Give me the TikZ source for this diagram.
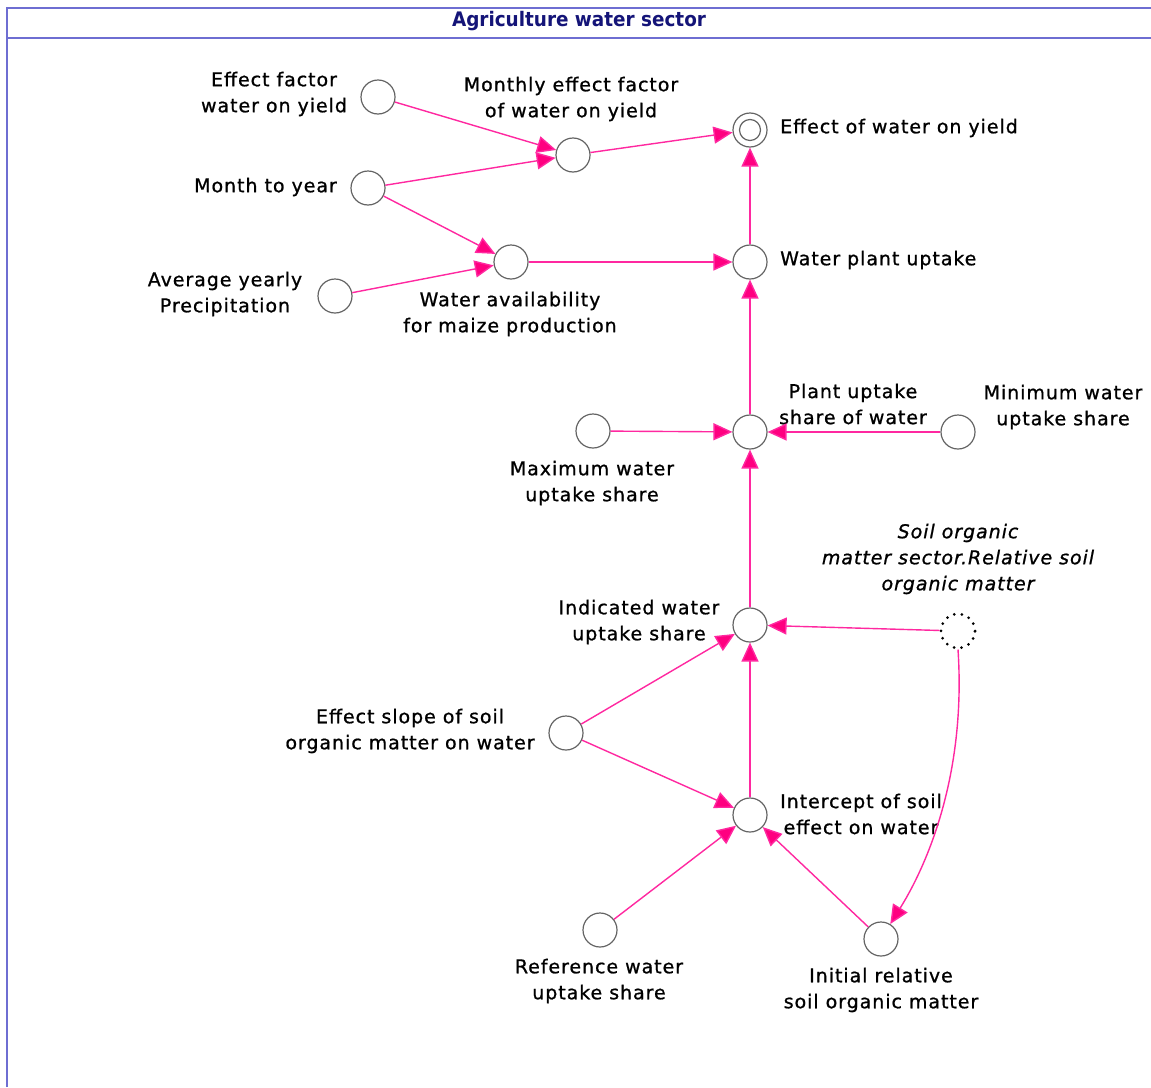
\documentclass[tikz,border=0pt]{standalone}
\usepackage{fontspec}
\setmainfont{DejaVu Sans}
\usetikzlibrary{arrows.meta}
\definecolor{linkpink}{RGB}{255,40,160}
\definecolor{tippink}{RGB}{255,0,128}
\definecolor{framecol}{RGB}{110,110,210}
\definecolor{titleblue}{RGB}{20,20,120}
\definecolor{ringgray}{RGB}{100,100,100}
\newfontfamily\labelfont[LetterSpace=5,FakeBold=0.9]{DejaVu Sans}
\newfontfamily\labelitfont[LetterSpace=5,FakeBold=0.9]{DejaVu Sans Oblique}
\tikzset{
  var/.style={circle, draw=ringgray, line width=1.2pt, minimum size=34pt, inner sep=0pt},
  lbl/.style={align=center, inner sep=0pt, font={\labelfont\fontsize{19}{26}\selectfont}},
  link/.style={draw=linkpink, line width=1.4pt, -{Triangle[length=19pt,width=17pt,fill=tippink]}},
}
\begin{document}
\begin{tikzpicture}[x=1pt,y=-1pt]
\useasboundingbox (0,0) rectangle (1151,1087);
\fill[white] (0,0) rectangle (1151,1087);
% frame and title bar
\draw[framecol, line width=1.2pt] (7,1087) -- (7,8) -- (1151,8);
\draw[framecol, line width=1.2pt] (7,38) -- (1151,38);
\node[inner sep=0pt, text=titleblue] (title) at (579,21)
  {\scalebox{0.92}[1]{\fontsize{20}{22}\selectfont\bfseries Agriculture water sector}};

% variables
\node[var] (efw) at (378,97) {};
\node[var] (mef) at (573,155) {};
\node[var] (ewy) at (750,130) {};
\node[circle, draw=ringgray, line width=1.2pt, minimum size=21pt, inner sep=0pt] (ewyin) at (750,130) {};
\node[var] (mty) at (368,188) {};
\node[var] (wa) at (511,262) {};
\node[var] (ayp) at (335,296) {};
\node[var] (wpu) at (750,262) {};
\node[var] (pus) at (750,432) {};
\node[var] (maxw) at (593,431) {};
\node[var] (minw) at (958,432) {};
\node[var] (iwu) at (750,625) {};
\node[var, draw=black, line width=3pt, line cap=round, dash pattern=on 0pt off 7.6pt] (som) at (958,631) {};
\node[var] (es) at (566,733) {};
\node[var] (ise) at (750,815) {};
\node[var] (rwu) at (600,930) {};
\node[var] (irs) at (881,939) {};

% labels
\node[lbl] (lefw) at (274,94) {Effect factor\\water on yield};
\node[lbl] (lmef) at (571,99) {Monthly effect factor\\of water on yield};
\node[lbl, anchor=west] (lewy) at (780,128) {Effect of water on yield};
\node[lbl, anchor=east] (lmty) at (337,187) {Month to year};
\node[lbl] (layp) at (225,294) {Average yearly\\Precipitation};
\node[lbl] (lwa) at (510,314) {Water availability\\for maize production};
\node[lbl, anchor=west] (lwpu) at (780,260) {Water plant uptake};
\node[lbl] (lpus) at (853,404) {Plant uptake\\share of water};
\node[lbl] (lminw) at (1063,407) {Minimum water\\uptake share};
\node[lbl] (lmaxw) at (592,483) {Maximum water\\uptake share};
\node[lbl] (liwu) at (639,622) {Indicated water\\uptake share};
\node[lbl, font={\labelitfont\fontsize{19}{26}\selectfont}] (lsom) at (958,559)
  {Soil organic\\matter sector.Relative soil\\organic matter};
\node[lbl] (les) at (410,731) {Effect slope of soil\\organic matter on water};
\node[lbl] (lise) at (861,814) {Intercept of soil\\effect on water};
\node[lbl] (lrwu) at (599,981) {Reference water\\uptake share};
\node[lbl] (lirs) at (881,990) {Initial relative\\soil organic matter};

% connectors
\draw[link] (efw) -- (mef);
\draw[link] (mty) -- (mef);
\draw[link] (mty) -- (wa);
\draw[link] (ayp) -- (wa);
\draw[link] (mef) -- (ewy);
\draw[link] (wpu) -- (ewy);
\draw[link] (wa) -- (wpu);
\draw[link] (pus) -- (wpu);
\draw[link] (maxw) -- (pus);
\draw[link] (minw) -- (pus);
\draw[link] (iwu) -- (pus);
\draw[link] (som) -- (iwu);
\draw[link] (es) -- (iwu);
\draw[link] (es) -- (ise);
\draw[link] (ise) -- (iwu);
\draw[link] (rwu) -- (ise);
\draw[link] (irs) -- (ise);
\draw[link] (som.south) .. controls (966,770) and (930,860) .. (irs);
\end{tikzpicture}
\end{document}
